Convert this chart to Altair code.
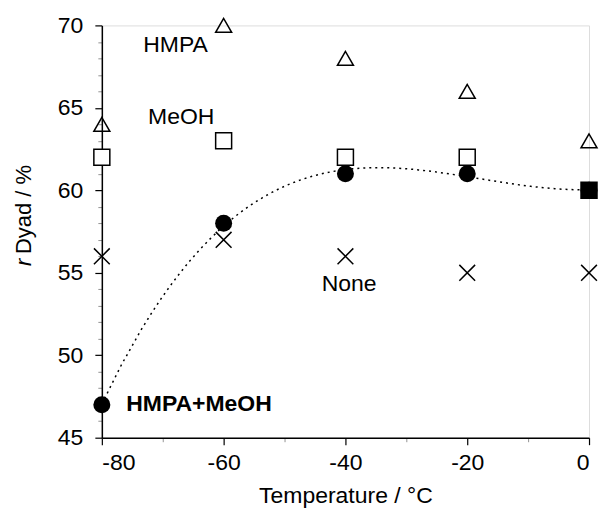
import altair as alt
import pandas as pd

temps = [-80, -60, -40, -20, 0]
hmpa = [64, 70, 68, 66, 63]
meoh = [62, 63, 62, 62, 60]
none_ = [56, 57, 56, 55, 55]
hmpa_meoh = [47, 58, 61, 61, 60]

label_text = ["HMPA", "MeOH", "None"]
label_x = [-73.2, -72.4, -43.9]
label_y = [68.8, 64.45, 54.3]
bold_label = ["HMPA+MeOH"]
bold_x = [-76.0]
bold_y = [47.06]

FONT = "Liberation Sans"
FS = 23

df_h = pd.DataFrame({"t": temps, "v": hmpa})
df_m = pd.DataFrame({"t": temps, "v": meoh})
df_n = pd.DataFrame({"t": temps, "v": none_})
df_hm = pd.DataFrame({"t": temps, "v": hmpa_meoh})
df_lab = pd.DataFrame({"text": label_text, "t": label_x, "v": label_y})
df_bold = pd.DataFrame({"text": bold_label, "t": bold_x, "v": bold_y})

xscale = alt.Scale(domain=[-80, 0], nice=False, zero=False)
yscale = alt.Scale(domain=[45, 70], nice=False, zero=False)

xaxis = alt.Axis(
    title="Temperature / °C",
    values=list(range(-80, 1, 10)),
    labelExpr="datum.value % 20 == 0 ? '' + datum.value : ''",
    grid=False,
    tickSize={"condition": {"test": "datum.value % 20 == 0", "value": 7}, "value": 4},
    tickWidth={"condition": {"test": "datum.value % 20 == 0", "value": 1.2}, "value": 0.8},
    tickColor={"condition": {"test": "datum.value % 20 == 0", "value": "black"}, "value": "#777"},
    domainColor="black", domainWidth=1.5,
    labelFont=FONT, labelFontSize=FS, labelColor="black", labelPadding=7,
    titleFont=FONT, titleFontSize=FS, titleFontWeight="normal", titleColor="black",
    titlePadding=10,
)
yaxis = alt.Axis(
    title=None,
    values=list(range(45, 71)),
    labelExpr="datum.value % 5 == 0 ? '' + datum.value : ''",
    grid=False,
    tickSize={"condition": {"test": "datum.value % 5 == 0", "value": 7}, "value": 4},
    tickWidth={"condition": {"test": "datum.value % 5 == 0", "value": 1.2}, "value": 0.8},
    tickColor={"condition": {"test": "datum.value % 5 == 0", "value": "black"}, "value": "#777"},
    domainColor="black", domainWidth=1.5,
    labelFont=FONT, labelFontSize=FS, labelColor="black", labelPadding=12,
)

X = alt.X("t:Q", scale=xscale, axis=xaxis)
Y = alt.Y("v:Q", scale=yscale, axis=yaxis)

curve = (
    alt.Chart(df_hm)
    .transform_regression("t", "v", method="poly", order=3, extent=[-80, 0])
    .mark_line(color="black", strokeDash=[2, 4], strokeWidth=1.5)
    .encode(x=X, y=Y)
)

tri = alt.Chart(df_h).mark_point(
    shape="triangle-up", size=256, filled=False, color="black", strokeWidth=1.5, opacity=1
).encode(x=X, y=Y)

cross = alt.Chart(df_n).mark_point(
    shape="M-1,-1L1,1M1,-1L-1,1", size=250, filled=False, color="black", strokeWidth=1.5, opacity=1
).encode(x=X, y=Y)

circ = alt.Chart(df_hm).mark_point(
    shape="circle", size=290, filled=True, color="black", opacity=1
).encode(x=X, y=Y)

sq = alt.Chart(df_m).mark_point(
    shape="square", size=256, color="black", strokeWidth=1.5, opacity=1
).encode(
    x=X, y=Y,
    fill=alt.condition("datum.t == 0", alt.value("black"), alt.value("white")),
)

labels = alt.Chart(df_lab).mark_text(
    font=FONT, fontSize=FS, align="left", baseline="middle", color="black"
).encode(x=X, y=Y, text="text:N")

bold = alt.Chart(df_bold).mark_text(
    font=FONT, fontSize=FS, fontWeight="bold", align="left", baseline="middle", color="black"
).encode(x=X, y=Y, text="text:N")

ytitle_r = alt.Chart(pd.DataFrame({"s": ["r"]})).mark_text(
    font=FONT, fontSize=22, fontStyle="italic", angle=270, align="left",
    baseline="middle", color="black"
).encode(x=alt.value(-78), y=alt.value(241), text="s:N")

ytitle_rest = alt.Chart(pd.DataFrame({"s": ["Dyad / %"]})).mark_text(
    font=FONT, fontSize=22, angle=270, align="left", baseline="middle", color="black"
).encode(x=alt.value(-78), y=alt.value(229), text="s:N")

chart = (
    alt.layer(curve, tri, cross, sq, circ, labels, bold, ytitle_r, ytitle_rest)
    .properties(
        width=488, height=413,
        autosize=alt.AutoSizeParams(type="none"),
        padding={"left": 94, "top": 17, "right": 10, "bottom": 72},
    )
    .configure_view(stroke=None)
    .configure(background="white")
)

chart.save("out.html", embed_options={"renderer": "svg", "actions": False})
